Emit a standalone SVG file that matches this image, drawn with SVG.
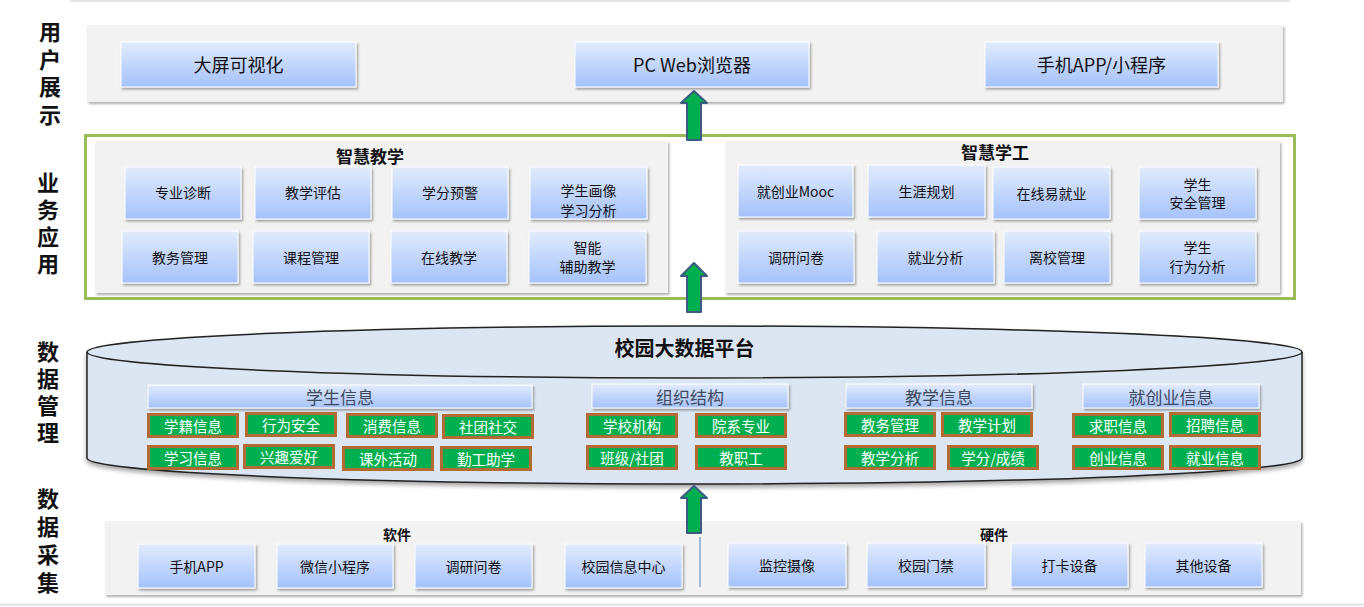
<svg xmlns="http://www.w3.org/2000/svg" width="1364" height="607" viewBox="0 0 1364 607">
<defs>
<linearGradient id="bg" x1="0" y1="0" x2="0" y2="1">
<stop offset="0" stop-color="#e2ebfc"/>
<stop offset="1" stop-color="#a4c2fa"/>
</linearGradient>
<filter id="sh" x="-10%" y="-20%" width="125%" height="150%">
<feDropShadow dx="1.5" dy="2" stdDeviation="1" flood-color="#000" flood-opacity="0.35"/>
</filter>
<filter id="psh" x="-5%" y="-10%" width="110%" height="125%">
<feDropShadow dx="1.5" dy="2" stdDeviation="1" flood-color="#000" flood-opacity="0.3"/>
</filter>
<filter id="csh" x="-5%" y="-10%" width="110%" height="130%">
<feDropShadow dx="0" dy="3" stdDeviation="2" flood-color="#000" flood-opacity="0.35"/>
</filter>
<style>
.btn{fill:url(#bg);stroke:#fff;stroke-width:1;filter:url(#sh)}
.panel{fill:#f2f2f2;filter:url(#psh)}
.hdr{fill:url(#bg);stroke:#fff;stroke-width:1;filter:url(#sh)}
.gb{fill:#00b050;stroke:#b26b35;stroke-width:3}
.t{font-family:"Noto Sans CJK SC","Noto Sans",sans-serif;text-anchor:middle;dominant-baseline:central;fill:#111}
.b14{font-size:14px}
.b18{font-size:18px}
.side{font-family:"Noto Sans CJK SC",sans-serif;font-size:22px;font-weight:bold;fill:#111;writing-mode:vertical-rl;text-anchor:start}
.ttl{font-size:17px;font-weight:bold}
.ht{font-size:17px;fill:#3f4a5a}
.wt{font-size:14.5px;fill:#fff}
.arr{fill:#00b050;stroke:#3d5a80;stroke-width:2;stroke-linejoin:round}
</style>
</defs>
<rect width="1364" height="607" fill="#fff"/>
<line x1="70" y1="1" x2="1290" y2="1" stroke="#e6e6e6" stroke-width="2"/>
<line x1="0" y1="604.5" x2="1364" y2="604.5" stroke="#e2e2e2" stroke-width="2"/>

<g id="side-labels">
<text class="side" x="50" y="21" style="letter-spacing:5.5px">用户展示</text>
<text class="side" x="48" y="172" style="letter-spacing:5px">业务应用</text>
<text class="side" x="48" y="341" style="letter-spacing:5px">数据管理</text>
<text class="side" x="48" y="488" style="letter-spacing:6px">数据采集</text>
</g>

<g id="user-layer">
<rect class="panel" x="87" y="25" width="1196" height="77"/>
<g id="n-dapingkeshihua"><rect class="btn" x="121" y="42" width="235" height="45"/><text class="t b18" x="238.5" y="64">大屏可视化</text></g>
<g id="n-pcweb"><rect class="btn" x="575" y="42" width="234" height="45"/><text class="t b18" x="692" y="64">PC Web浏览器</text></g>
<g id="n-mobile"><rect class="btn" x="985" y="42" width="233" height="45"/><text class="t b18" x="1101.5" y="64">手机APP/小程序</text></g>
</g>

<g id="business-layer">
<rect x="85.5" y="135.5" width="1209" height="163" fill="#fff" stroke="#9bbb59" stroke-width="3"/>
<g id="zhihuijiaoxue">
<rect class="panel" x="95" y="141" width="573" height="152"/>
<text class="t ttl" x="370" y="155">智慧教学</text>
<g id="n-zyzd"><rect class="btn" x="125" y="167" width="116" height="52"/><text class="t b14" x="183" y="192">专业诊断</text></g>
<g id="n-jxpg"><rect class="btn" x="255" y="167" width="116" height="52"/><text class="t b14" x="313" y="192">教学评估</text></g>
<g id="n-xfyj"><rect class="btn" x="392" y="167" width="116" height="52"/><text class="t b14" x="450" y="192">学分预警</text></g>
<g id="n-xshx"><rect class="btn" x="530" y="167" width="117" height="52"/><text class="t b14" x="588.5" y="190">学生画像</text><text class="t b14" x="588.5" y="210">学习分析</text></g>
<g id="n-jwgl"><rect class="btn" x="122" y="231" width="116" height="52"/><text class="t b14" x="180" y="256.5">教务管理</text></g>
<g id="n-kcgl"><rect class="btn" x="253" y="231" width="116" height="52"/><text class="t b14" x="311" y="256.5">课程管理</text></g>
<g id="n-zxjx"><rect class="btn" x="391" y="231" width="116" height="52"/><text class="t b14" x="449" y="256.5">在线教学</text></g>
<g id="n-znfz"><rect class="btn" x="529" y="231" width="117" height="52"/><text class="t b14" x="587.5" y="247">智能</text><text class="t b14" x="587.5" y="266">辅助教学</text></g>
</g>
<g id="zhihuixuegong">
<rect class="panel" x="725" y="141" width="555" height="152"/>
<text class="t ttl" x="995" y="151">智慧学工</text>
<g id="n-mooc"><rect class="btn" x="738" y="165" width="115" height="52"/><text class="t b14" x="795.5" y="191">就创业Mooc</text></g>
<g id="n-syjh"><rect class="btn" x="868" y="165" width="117" height="52"/><text class="t b14" x="926.5" y="191">生涯规划</text></g>
<g id="n-zxyjy"><rect class="btn" x="993" y="167" width="117" height="52"/><text class="t b14" x="1051.5" y="193">在线易就业</text></g>
<g id="n-xsaq"><rect class="btn" x="1139" y="167" width="117" height="52"/><text class="t b14" x="1197.5" y="184">学生</text><text class="t b14" x="1197.5" y="202">安全管理</text></g>
<g id="n-dywj"><rect class="btn" x="738" y="231" width="116" height="52"/><text class="t b14" x="796" y="257">调研问卷</text></g>
<g id="n-jyfx"><rect class="btn" x="877" y="231" width="117" height="52"/><text class="t b14" x="935.5" y="257">就业分析</text></g>
<g id="n-lxgl"><rect class="btn" x="1004" y="231" width="106" height="52"/><text class="t b14" x="1057" y="257">离校管理</text></g>
<g id="n-xsxw"><rect class="btn" x="1139" y="231" width="117" height="52"/><text class="t b14" x="1197.5" y="247">学生</text><text class="t b14" x="1197.5" y="266">行为分析</text></g>
</g>
</g>

<g id="data-platform">
<path d="M87,352 A607.5,26 0 0 1 1302,352 L1302,458 A607.5,26 0 0 1 87,458 Z" fill="#dce6f2" stroke="#222" stroke-width="1.5" filter="url(#csh)"/>
<path d="M87,352 A607.5,26 0 0 0 1302,352" fill="none" stroke="#222" stroke-width="1.5"/>
<text class="t" x="684.5" y="347" style="font-size:20px;font-weight:bold">校园大数据平台</text>
<g id="grp-student">
<rect class="hdr" x="148" y="385" width="384" height="23"/><text class="t ht" x="340" y="396.5">学生信息</text>
<g id="n-xjxx"><rect class="gb" x="148.5" y="414.5" width="89" height="22"/><text class="t wt" x="193" y="425.5">学籍信息</text></g>
<g id="n-xwaq"><rect class="gb" x="246.5" y="413.5" width="89" height="22"/><text class="t wt" x="291" y="424.5">行为安全</text></g>
<g id="n-xfxx"><rect class="gb" x="347.5" y="414.5" width="89" height="22"/><text class="t wt" x="392" y="425.5">消费信息</text></g>
<g id="n-stsj"><rect class="gb" x="443.5" y="415.5" width="89" height="22"/><text class="t wt" x="488" y="426.5">社团社交</text></g>
<g id="n-xxxx"><rect class="gb" x="148.5" y="446.5" width="89" height="22"/><text class="t wt" x="193" y="457.5">学习信息</text></g>
<g id="n-xqah"><rect class="gb" x="244.5" y="445.5" width="89" height="22"/><text class="t wt" x="289" y="456.5">兴趣爱好</text></g>
<g id="n-kwhd"><rect class="gb" x="343.5" y="447.5" width="89" height="22"/><text class="t wt" x="388" y="458.5">课外活动</text></g>
<g id="n-qgzx"><rect class="gb" x="441.5" y="447.5" width="89" height="22"/><text class="t wt" x="486" y="458.5">勤工助学</text></g>
</g>
<g id="grp-org">
<rect class="hdr" x="592" y="384" width="196" height="24"/><text class="t ht" x="690" y="396">组织结构</text>
<g id="n-xxjg"><rect class="gb" x="587.5" y="414.5" width="89" height="22"/><text class="t wt" x="632" y="425.5">学校机构</text></g>
<g id="n-yxzy"><rect class="gb" x="696.5" y="414.5" width="89" height="22"/><text class="t wt" x="741" y="425.5">院系专业</text></g>
<g id="n-bjst"><rect class="gb" x="587.5" y="446.5" width="89" height="22"/><text class="t wt" x="632" y="457.5">班级/社团</text></g>
<g id="n-jzg"><rect class="gb" x="696.5" y="446.5" width="89" height="22"/><text class="t wt" x="741" y="457.5">教职工</text></g>
</g>
<g id="grp-teach">
<rect class="hdr" x="846" y="384" width="186" height="24"/><text class="t ht" x="939" y="396">教学信息</text>
<g id="n-jwgl2"><rect class="gb" x="845.5" y="413.5" width="89" height="22"/><text class="t wt" x="890" y="424.5">教务管理</text></g>
<g id="n-jxjh"><rect class="gb" x="942.5" y="413.5" width="89" height="22"/><text class="t wt" x="987" y="424.5">教学计划</text></g>
<g id="n-jxfx"><rect class="gb" x="845.5" y="446.5" width="89" height="22"/><text class="t wt" x="890" y="457.5">教学分析</text></g>
<g id="n-xfcj"><rect class="gb" x="948.5" y="446.5" width="89" height="22"/><text class="t wt" x="993" y="457.5">学分/成绩</text></g>
</g>
<g id="grp-career">
<rect class="hdr" x="1083" y="384" width="176" height="24"/><text class="t ht" x="1171" y="396">就创业信息</text>
<g id="n-qzxx"><rect class="gb" x="1073.5" y="414.5" width="89" height="22"/><text class="t wt" x="1118" y="425.5">求职信息</text></g>
<g id="n-zpxx"><rect class="gb" x="1170.5" y="413.5" width="89" height="22"/><text class="t wt" x="1215" y="424.5">招聘信息</text></g>
<g id="n-cyxx"><rect class="gb" x="1073.5" y="446.5" width="89" height="22"/><text class="t wt" x="1118" y="457.5">创业信息</text></g>
<g id="n-jyxx"><rect class="gb" x="1170.5" y="446.5" width="89" height="22"/><text class="t wt" x="1215" y="457.5">就业信息</text></g>
</g>
</g>

<g id="collect-layer">
<rect class="panel" x="105" y="521" width="1196" height="74"/>
<text class="t" x="397" y="534" style="font-size:14px;font-weight:bold">软件</text>
<text class="t" x="994" y="534" style="font-size:14px;font-weight:bold">硬件</text>
<line x1="700" y1="537" x2="700" y2="587" stroke="#4f81bd" stroke-width="1"/>
<g id="n-sjapp"><rect class="btn" x="138" y="544" width="117" height="44"/><text class="t b14" x="196.5" y="566">手机APP</text></g>
<g id="n-wxxcx"><rect class="btn" x="277" y="544" width="116" height="44"/><text class="t b14" x="335" y="566">微信小程序</text></g>
<g id="n-dywj2"><rect class="btn" x="415" y="544" width="117" height="44"/><text class="t b14" x="473.5" y="566">调研问卷</text></g>
<g id="n-xyxxzx"><rect class="btn" x="565" y="544" width="117" height="44"/><text class="t b14" x="623.5" y="566">校园信息中心</text></g>
<g id="n-jksx"><rect class="btn" x="728" y="543" width="118" height="44"/><text class="t b14" x="787" y="565">监控摄像</text></g>
<g id="n-xymj"><rect class="btn" x="867" y="543" width="118" height="44"/><text class="t b14" x="926" y="565">校园门禁</text></g>
<g id="n-dksb"><rect class="btn" x="1011" y="543" width="117" height="44"/><text class="t b14" x="1069.5" y="565">打卡设备</text></g>
<g id="n-qtsb"><rect class="btn" x="1145" y="543" width="117" height="44"/><text class="t b14" x="1203.5" y="565">其他设备</text></g>
</g>

<g id="connectors">
<path class="arr" d="M694,91 L707,103 L701,103 L701,140 L687,140 L687,103 L681,103 Z"/>
<path class="arr" d="M694,263 L707,276 L701,276 L701,312 L687,312 L687,276 L681,276 Z"/>
<path class="arr" d="M694,486 L707,498 L701,498 L701,533 L687,533 L687,498 L681,498 Z"/>
</g>
</svg>
